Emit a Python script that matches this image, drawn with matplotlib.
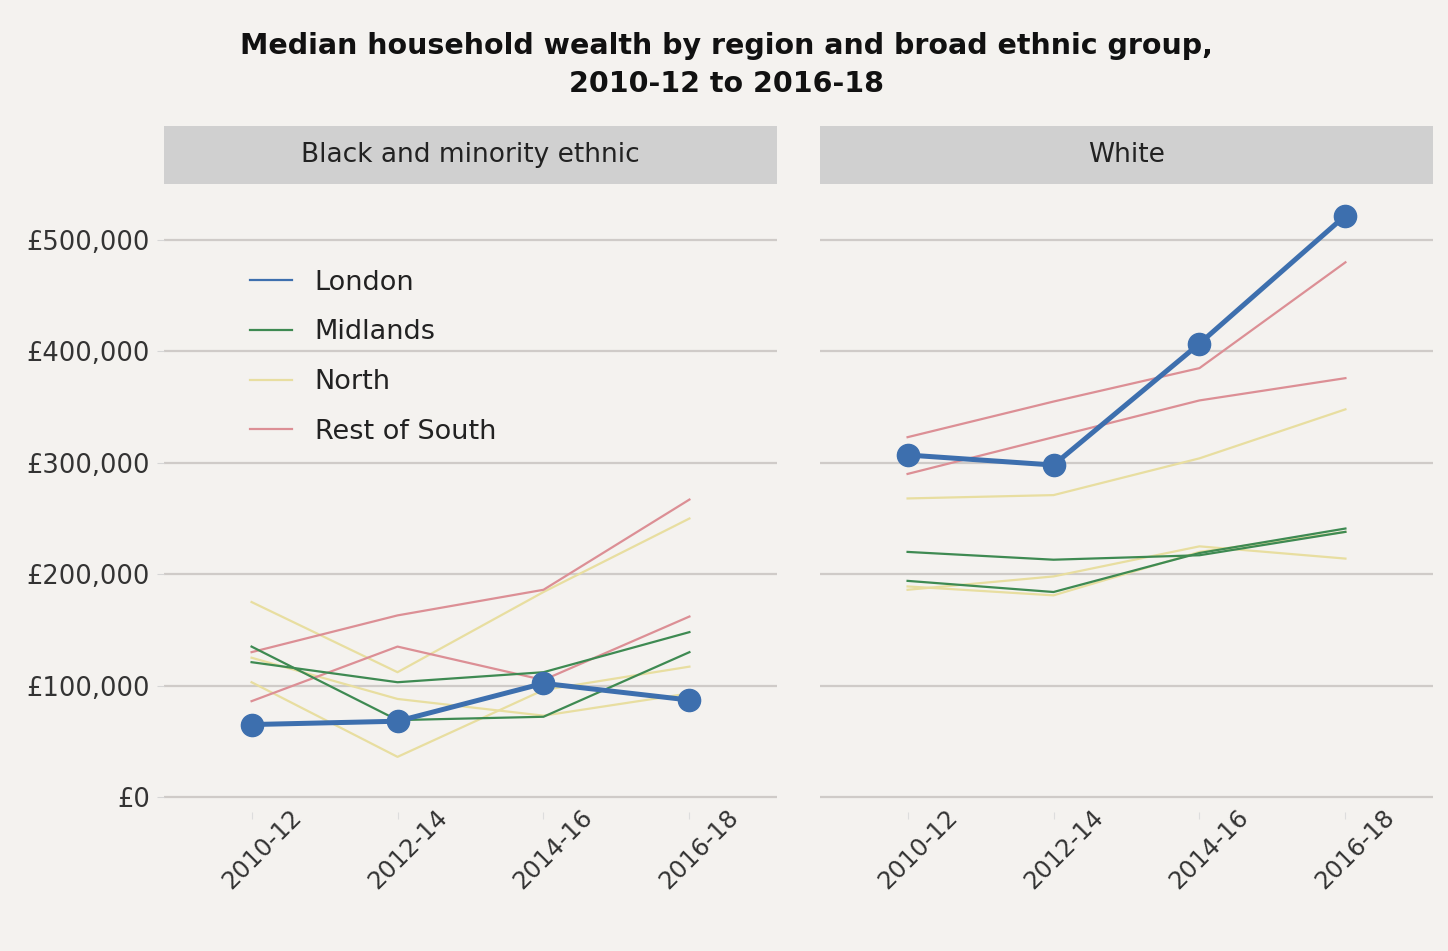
import matplotlib
matplotlib.use("Agg")
import matplotlib.pyplot as plt
from matplotlib.transforms import ScaledTranslation

plt.rcParams['font.family'] = ['DejaVu Sans']

periods = ['2010-12', '2012-14', '2014-16', '2016-18']
panels = ['Black and minority ethnic', 'White']
regions = ['London', 'Midlands', 'North', 'Rest of South']

# BME values (GBP), one list per sub-region line
bme_london = [[65000, 68000, 102000, 87000]]
bme_midlands = [[135000, 69000, 72000, 130000],
                [121000, 103000, 112000, 148000]]
bme_north = [[175000, 112000, 184000, 250000],
             [103000, 36000, 96000, 117000],
             [125000, 88000, 73000, 93000]]
bme_south = [[130000, 163000, 186000, 267000],
             [86000, 135000, 105000, 162000]]

# White values
white_london = [[307000, 298000, 407000, 522000]]
white_midlands = [[220000, 213000, 217000, 238000],
                  [194000, 184000, 219000, 241000]]
white_north = [[268000, 271000, 304000, 348000],
               [186000, 198000, 225000, 214000],
               [189000, 181000, 220000, 238000]]
white_south = [[323000, 355000, 385000, 480000],
               [290000, 323000, 356000, 376000]]

colours = {'London': '#3d6fae', 'Midlands': '#3e8a52',
           'North': '#e8dea0', 'Rest of South': '#dc8f95'}

data = {
    'Black and minority ethnic': {'London': bme_london, 'Midlands': bme_midlands,
                                  'North': bme_north, 'Rest of South': bme_south},
    'White': {'London': white_london, 'Midlands': white_midlands,
              'North': white_north, 'Rest of South': white_south},
}

bg = '#f4f2ef'
fig = plt.figure(figsize=(14.48, 9.51), dpi=100, facecolor=bg)

fig.text(0.502, 0.966, 'Median household wealth by region and broad ethnic group,\n2010-12 to 2016-18',
         ha='center', va='top', fontsize=20.5, fontweight='bold', linespacing=1.42, color='#111111')

lefts = [164 / 1448, 820 / 1448]
width = 613 / 1448
bottom = 1 - 812 / 951
height = (812 - 184) / 951
x = list(range(len(periods)))

for i, panel in enumerate(panels):
    ax = fig.add_axes([lefts[i], bottom, width, height])
    ax.set_facecolor(bg)
    for s in ax.spines.values():
        s.set_visible(False)
    ax.set_xlim(-0.6, 3.6)
    ax.set_ylim(-13500, 550300)
    ax.set_yticks([0, 100000, 200000, 300000, 400000, 500000])
    ax.yaxis.grid(True, color='#cfcbc8', linewidth=1.6)
    ax.set_axisbelow(True)

    for reg in ['North', 'Rest of South', 'Midlands']:
        for vals in data[panel][reg]:
            ax.plot(x, vals, color=colours[reg], linewidth=1.6, zorder=2)
    for vals in data[panel]['London']:
        ax.plot(x, vals, color=colours['London'], linewidth=3.6, marker='o',
                markersize=16, zorder=3)

    ax.set_xticks(x)
    ax.set_xticklabels(periods, rotation=45, ha='center', va='center',
                       rotation_mode='anchor', fontsize=17.5, color='#333333')
    ax.tick_params(axis='x', length=5, color='#dddddd', pad=22)
    for lab in ax.get_xticklabels():
        lab.set_transform(lab.get_transform() + ScaledTranslation(0.1, 0, fig.dpi_scale_trans))

    if i == 0:
        ax.set_yticklabels(['£{:,.0f}'.format(v) for v in ax.get_yticks()],
                           fontsize=18.5, color='#333333')
        ax.tick_params(axis='y', length=5, color='#d6d6d6', pad=5)
        handles = [plt.Line2D([], [], color=colours[r], linewidth=1.6) for r in regions]
        ax.legend(handles, regions, loc='upper left', bbox_to_anchor=(0.1, 0.902),
                  frameon=False, fontsize=19.5, handlelength=1.55, handletextpad=0.85,
                  labelspacing=0.87, labelcolor='#222222')
    else:
        ax.tick_params(axis='y', length=0, labelleft=False)

    strip = fig.add_axes([lefts[i], 1 - 184 / 951, width, 58 / 951])
    strip.set_facecolor('#d0d0d0')
    strip.set_xticks([])
    strip.set_yticks([])
    for s in strip.spines.values():
        s.set_visible(False)
    strip.text(0.5, 0.5, panel, ha='center', va='center', fontsize=19,
               color='#222222', transform=strip.transAxes)

fig.savefig('out.png', dpi=100, facecolor=bg)
